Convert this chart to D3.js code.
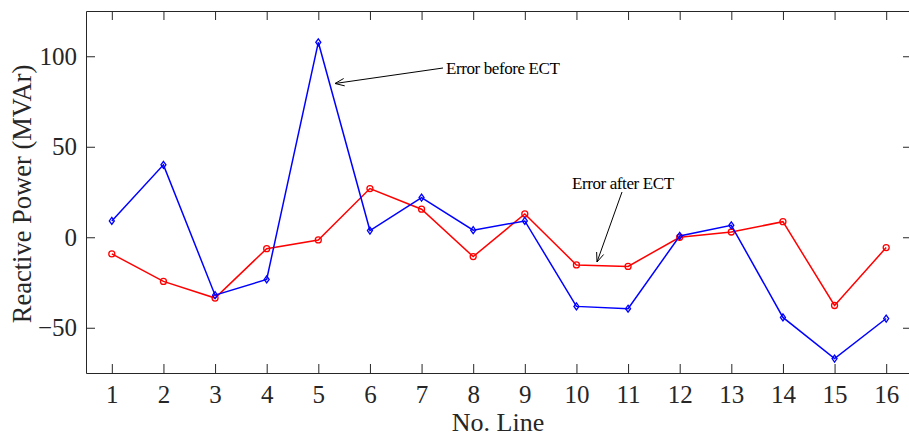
<!DOCTYPE html>
<html>
<head>
<meta charset="utf-8">
<script src="https://cdn.jsdelivr.net/npm/d3@7"></script>
<style>
  body { margin: 0; background: #fff; }
  svg { display: block; font-family: "Liberation Serif", "DejaVu Serif", serif; }
</style>
</head>
<body>
<svg width="909" height="437"></svg>
<script>
// data
const lines = d3.range(1, 17);
const beforeECT = [9, 40, -32, -23.3, 107.7, 3.7, 21.9, 3.9, 9, -38.2, -39.5, 0.7, 6.6, -44.3, -67, -44.9];
const afterECT = [-9.2, -24.4, -33.6, -6.3, -1.5, 26.9, 15.5, -10.7, 12.9, -15.3, -16.1, 0, 2.9, 8.6, -37.7, -5.7];
const yTicks = [-50, 0, 50, 100];

const svg = d3.select("svg");
const plotL = 86, plotR = 912, plotT = 11, plotB = 373;
const axisColor = "#262626";

const x = d3.scaleLinear().domain([0.5, 16.5]).range([plotL, plotR]);
const y = d3.scaleLinear().domain([-75, 125]).range([plotB, plotT]);

// box axes, ticks inside
const styleAxis = (g, fontSize) => {
  g.select(".domain").attr("stroke", axisColor);
  g.selectAll(".tick line").attr("stroke", axisColor);
  g.selectAll(".tick text").attr("fill", axisColor).attr("font-size", fontSize)
    .attr("font-family", "Liberation Serif");
};

svg.append("g").attr("transform", `translate(0,${plotB})`)
  .call(d3.axisBottom(x).tickValues(lines).tickSize(-9).tickPadding(12).tickSizeOuter(0))
  .call(g => styleAxis(g, 25));
svg.append("g").attr("transform", `translate(0,${plotT})`)
  .call(d3.axisTop(x).tickValues(lines).tickSize(-9).tickFormat("").tickSizeOuter(0))
  .call(g => styleAxis(g, 25));
svg.append("g").attr("transform", `translate(${plotL},0)`)
  .call(d3.axisLeft(y).tickValues(yTicks).tickSize(-9).tickPadding(9).tickSizeOuter(0))
  .call(g => styleAxis(g, 25));
svg.append("g").attr("transform", `translate(${plotR},0)`)
  .call(d3.axisRight(y).tickValues(yTicks).tickSize(-9).tickFormat("").tickSizeOuter(0))
  .call(g => styleAxis(g, 25));

// axis labels
svg.append("text")
  .attr("x", 498).attr("y", 431)
  .attr("text-anchor", "middle").attr("font-size", 26).attr("fill", axisColor)
  .text("No. Line");
svg.append("text")
  .attr("transform", "translate(31,194) rotate(-90)")
  .attr("text-anchor", "middle").attr("font-size", 26.5).attr("fill", axisColor)
  .text("Reactive Power (MVAr)");

// series
const line = d3.line().x((d, i) => x(lines[i])).y(d => y(d));

svg.append("path").datum(afterECT)
  .attr("fill", "none").attr("stroke", "#ff0000").attr("stroke-width", 1.5)
  .attr("d", line);
svg.append("g").selectAll("circle").data(afterECT).join("circle")
  .attr("cx", (d, i) => x(lines[i])).attr("cy", d => y(d)).attr("r", 3)
  .attr("fill", "none").attr("stroke", "#ff0000").attr("stroke-width", 1.3);

svg.append("path").datum(beforeECT)
  .attr("fill", "none").attr("stroke", "#0000ff").attr("stroke-width", 1.5)
  .attr("d", line);
svg.append("g").selectAll("path").data(beforeECT).join("path")
  .attr("transform", (d, i) => `translate(${x(lines[i])},${y(d)})`)
  .attr("d", "M0,-3.5L2.5,0L0,3.5L-2.5,0Z")
  .attr("fill", "none").attr("stroke", "#0000ff").attr("stroke-width", 1.3);

// annotations
function arrow(x1, y1, x2, y2) {
  const a = Math.atan2(y2 - y1, x2 - x1);
  const len = 10, spread = 0.38;
  const p1 = [x2 - len * Math.cos(a - spread), y2 - len * Math.sin(a - spread)];
  const p2 = [x2 - len * Math.cos(a + spread), y2 - len * Math.sin(a + spread)];
  svg.append("path")
    .attr("d", `M${x1},${y1}L${x2},${y2}M${p1[0]},${p1[1]}L${x2},${y2}L${p2[0]},${p2[1]}`)
    .attr("fill", "none").attr("stroke", "#000").attr("stroke-width", 1);
}
arrow(443, 68, 335, 83.5);
svg.append("text").attr("x", 446).attr("y", 74).attr("font-size", 17)
  .attr("letter-spacing", -0.4).attr("fill", "#000").text("Error before ECT");

arrow(622, 192, 597, 262);
svg.append("text").attr("x", 572).attr("y", 189).attr("font-size", 17)
  .attr("letter-spacing", -0.4).attr("fill", "#000").text("Error after ECT");
</script>
</body>
</html>
